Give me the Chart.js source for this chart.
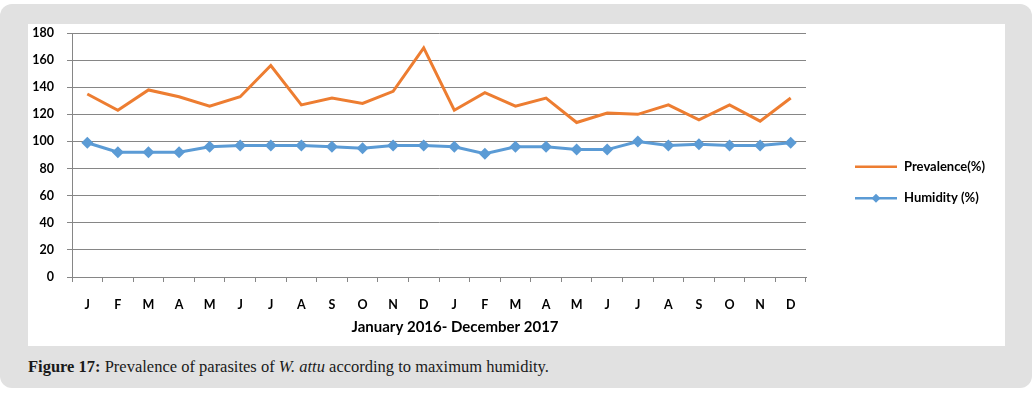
<!DOCTYPE html>
<html>
<head>
<meta charset="utf-8">
<script src="https://cdn.jsdelivr.net/npm/chart.js@4.4.1/dist/chart.umd.min.js"></script>
<style>
  html, body { margin: 0; padding: 0; background: #ffffff; width: 1036px; height: 396px; overflow: hidden; }
  #frame { position: absolute; left: 0; top: 4px; width: 1032px; height: 384px; background: #e1e1e1; border-radius: 12px; }
  #panel { position: absolute; left: 28px; top: 24px; width: 977px; height: 322px; background: #ffffff; }
  #caption { position: absolute; left: 28px; top: 357px; font-family: "Liberation Serif", "DejaVu Serif", serif; font-size: 16.5px; color: #1a1a1a; white-space: nowrap; }
</style>
</head>
<body>
<div id="frame"></div>
<div id="panel"><canvas id="c" width="977" height="322"></canvas></div>
<div id="caption"><b>Figure 17:</b> Prevalence of parasites of <i>W. attu</i> according to maximum humidity.</div>
<script>
const categories = ["J","F","M","A","M","J","J","A","S","O","N","D","J","F","M","A","M","J","J","A","S","O","N","D"];
const prevalence = [135,123,138,133,126,133,156,127,132,128,137,169,123,136,126,132,114,121,120,127,116,127,115,132];
const humidity   = [99,92,92,92,96,97,97,97,96,95,97,97,96,91,96,96,94,94,100,97,98,97,97,99];
const yTicks = [0,20,40,60,80,100,120,140,160,180];
const xTitle = "January 2016- December 2017";

const FONT = "Lato, 'Open Sans', sans-serif";

const legendPlugin = {
  id: 'customLegend',
  afterDraw(chart) {
    const ctx = chart.ctx;
    const items = [
      { ds: chart.data.datasets[0], y: 142.7 },
      { ds: chart.data.datasets[1], y: 174.3 }
    ];
    ctx.save();
    items.forEach(it => {
      ctx.strokeStyle = it.ds.borderColor;
      ctx.lineWidth = it.ds.borderWidth - 0.5;
      ctx.beginPath();
      ctx.moveTo(827, it.y);
      ctx.lineTo(869, it.y);
      ctx.stroke();
      if (it.ds.pointStyle === 'rectRot') {
        ctx.fillStyle = it.ds.borderColor;
        const r = 4.5;
        ctx.beginPath();
        ctx.moveTo(848, it.y - r);
        ctx.lineTo(848 + r, it.y);
        ctx.lineTo(848, it.y + r);
        ctx.lineTo(848 - r, it.y);
        ctx.closePath();
        ctx.fill();
      }
      ctx.fillStyle = '#000';
      ctx.font = "bold 13px " + FONT;
      ctx.textBaseline = 'middle';
      ctx.textAlign = 'left';
      ctx.fillText(it.ds.label, 876, it.y);
    });
    ctx.font = "bold 15px " + FONT;
    ctx.textAlign = 'center';
    ctx.textBaseline = 'middle';
    ctx.fillStyle = '#000';
    ctx.fillText(xTitle, 427, 303.5);
    ctx.restore();
  }
};

new Chart(document.getElementById('c'), {
  type: 'line',
  data: {
    labels: categories,
    datasets: [
      {
        label: 'Prevalence(%)',
        data: prevalence,
        borderColor: '#ED7D31',
        backgroundColor: '#ED7D31',
        borderWidth: 3,
        pointRadius: 0,
        pointHoverRadius: 0,
        tension: 0,
        pointStyle: 'line'
      },
      {
        label: 'Humidity (%)',
        data: humidity,
        borderColor: '#5B9BD5',
        backgroundColor: '#5B9BD5',
        borderWidth: 3,
        pointStyle: 'rectRot',
        pointRadius: 6,
        pointBorderWidth: 0,
        pointBackgroundColor: '#5B9BD5',
        tension: 0
      }
    ]
  },
  options: {
    responsive: false,
    animation: false,
    layout: { padding: { top: 9, right: 199, left: 0, bottom: 0 } },
    plugins: { legend: { display: false }, tooltip: { enabled: false } },
    scales: {
      x: {
        offset: true,
        grid: { display: true, drawOnChartArea: false, offset: true, tickLength: 5, color: '#868686', lineWidth: 1 },
        border: { display: true, color: '#868686', width: 1 },
        ticks: { padding: 15, color: '#000', font: { family: FONT, weight: 'bold', size: 12.5 }, maxRotation: 0, autoSkip: false },
        afterFit(scale) { scale.height = 69; scale.paddingLeft = 0; scale.paddingRight = 0; }
      },
      y: {
        min: 0,
        max: 180,
        afterBuildTicks(scale) { scale.ticks = yTicks.map(v => ({ value: v })); },
        grid: { color: '#868686', lineWidth: 1, tickLength: 5 },
        border: { display: true, color: '#868686', width: 1 },
        ticks: { padding: 13, color: '#000', font: { family: FONT, weight: 'bold', size: 12.5 } },
        afterFit(scale) { scale.width = 44; scale.paddingTop = 0; scale.paddingBottom = 0; }
      }
    }
  },
  plugins: [legendPlugin]
});
</script>
</body>
</html>
